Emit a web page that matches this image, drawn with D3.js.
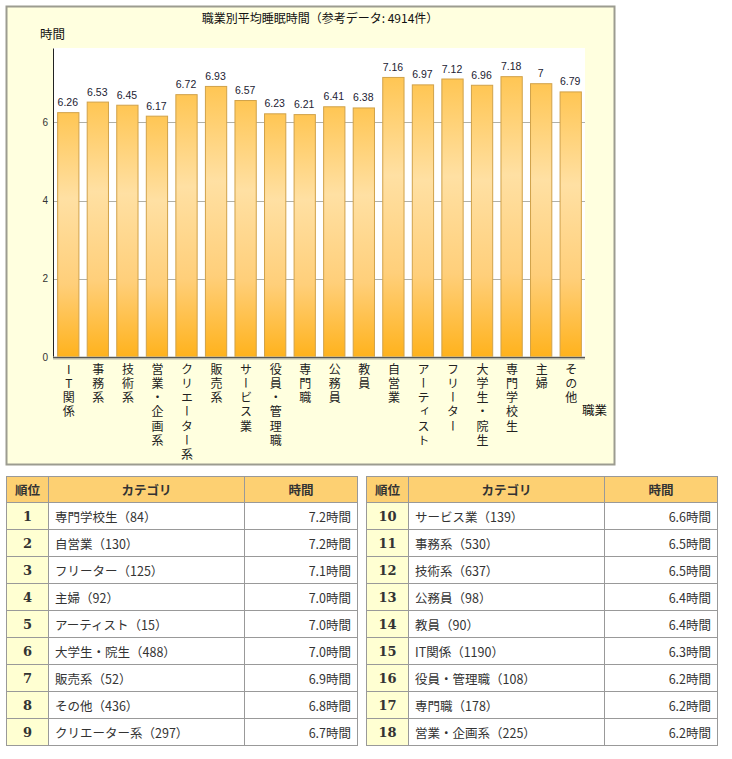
<!DOCTYPE html>
<html>
<head>
<meta charset="utf-8">
<script src="https://cdn.jsdelivr.net/npm/d3@7"></script>
<style>
    body { margin: 0; background: #fff; font-family: "Noto Sans CJK JP", "Noto Sans", sans-serif; }
    #chart { position: absolute; left: 0; top: 0; }
    table.rank {
        position: absolute; top: 476px; border-collapse: collapse;
        font-size: 12.5px; color: #333; table-layout: fixed;
    }
    table.rank th, table.rank td { border: 1px solid #999; height: 26px; padding: 0 6px; }
    table.rank th { background: #fdd072; font-weight: bold; text-align: center; height: 25px; }
    table.rank td.no { background: #ffffd2; text-align: center; font-weight: bold; font-family: "DejaVu Serif", serif; font-size: 13px; }
    table.rank td.hr { text-align: right; }
</style>
</head>
<body>
<div id="chart"></div>
<script>
// bar chart data (chart order)
const categories = ['IT関係', '事務系', '技術系', '営業・企画系', 'クリエーター系', '販売系', 'サービス業', '役員・管理職',
    '専門職', '公務員', '教員', '自営業', 'アーティスト', 'フリーター', '大学生・院生', '専門学校生', '主婦', 'その他'];
const values = [6.26, 6.53, 6.45, 6.17, 6.72, 6.93, 6.57, 6.23, 6.21, 6.41, 6.38, 7.16, 6.97, 7.12, 6.96, 7.18, 7, 6.79];
const yTicks = [0, 2, 4, 6];

// ranking table data
const rankNames = ['専門学校生', '自営業', 'フリーター', '主婦', 'アーティスト', '大学生・院生', '販売系', 'その他', 'クリエーター系',
    'サービス業', '事務系', '技術系', '公務員', '教員', 'IT関係', '役員・管理職', '専門職', '営業・企画系'];
const rankCounts = [84, 130, 125, 92, 15, 488, 52, 436, 297, 139, 530, 637, 98, 90, 1190, 108, 178, 225];
const rankHours = [7.2, 7.2, 7.1, 7.0, 7.0, 7.0, 6.9, 6.8, 6.7, 6.6, 6.5, 6.5, 6.4, 6.4, 6.3, 6.2, 6.2, 6.2];
const tableHeaders = ['順位', 'カテゴリ', '時間'];

const width = 732, height = 470;
const plot = {left: 53, right: 585, top: 48, bottom: 357};

const svg = d3.select('#chart').append('svg')
    .attr('width', width)
    .attr('height', height)
    .style('font-family', '"Noto Sans CJK JP", sans-serif');

// bar gradient
const defs = svg.append('defs');
const grad = defs.append('linearGradient')
    .attr('id', 'barGrad')
    .attr('x1', 0).attr('y1', 0).attr('x2', 0).attr('y2', 1);
grad.append('stop').attr('offset', '0%').attr('stop-color', '#ffc654');
grad.append('stop').attr('offset', '35%').attr('stop-color', '#ffe0a3');
grad.append('stop').attr('offset', '70%').attr('stop-color', '#ffcf7a');
grad.append('stop').attr('offset', '100%').attr('stop-color', '#ffb21c');

// panel
svg.append('rect')
    .attr('x', 6.5).attr('y', 6.5)
    .attr('width', 608).attr('height', 458)
    .attr('fill', '#ffffdf')
    .attr('stroke', '#9c9c90')
    .attr('stroke-width', 2);

svg.append('rect')
    .attr('x', plot.left).attr('y', plot.top)
    .attr('width', plot.right - plot.left).attr('height', plot.bottom - plot.top)
    .attr('fill', '#fff');

let x = d3.scaleBand()
    .domain(categories)
    .range([plot.left, plot.right])
    .paddingInner(0.28)
    .paddingOuter(0.14);

let y = d3.scaleLinear()
    .domain([0, 7.9])
    .range([plot.bottom, plot.top]);

// grid lines
svg.append('g')
    .selectAll('line')
    .data(yTicks.filter(d => d > 0))
    .join('line')
    .attr('x1', plot.left).attr('x2', plot.right)
    .attr('y1', d => Math.round(y(d)) + 0.5).attr('y2', d => Math.round(y(d)) + 0.5)
    .attr('stroke', '#b0b0a8');

// y axis
let yAxis = g => g
    .attr('transform', `translate(${plot.left}, 0)`)
    .call(d3.axisLeft(y).tickValues(yTicks).tickSize(0).tickPadding(5))
    .call(g => g.select('.domain').attr('stroke', '#222'))
    .call(g => g.selectAll('text').attr('font-size', 10).attr('fill', '#333').attr('font-family', 'Arial, "Liberation Sans", sans-serif'));
svg.append('g').call(yAxis);

// bars
svg.append('g')
    .selectAll('rect')
    .data(values)
    .join('rect')
    .attr('x', (d, i) => x(categories[i]) + 0.5)
    .attr('y', d => y(d) + 0.5)
    .attr('width', x.bandwidth())
    .attr('height', d => y(0) - y(d))
    .attr('fill', 'url(#barGrad)')
    .attr('stroke', '#d1a24a')
    .attr('stroke-width', 1);

// value labels
svg.append('g')
    .selectAll('text')
    .data(values)
    .join('text')
    .attr('x', (d, i) => x(categories[i]) + x.bandwidth() / 2)
    .attr('y', d => y(d) - 6)
    .attr('text-anchor', 'middle')
    .attr('font-size', 10.5)
    .attr('font-family', 'Arial, "Liberation Sans", sans-serif')
    .attr('fill', '#223')
    .text(d => d);

// x axis line
svg.append('line')
    .attr('x1', plot.left).attr('x2', plot.right)
    .attr('y1', plot.bottom + 1).attr('y2', plot.bottom + 1)
    .attr('stroke', '#b8b8a8').attr('stroke-width', 3);
svg.append('line')
    .attr('x1', plot.left).attr('x2', plot.right)
    .attr('y1', plot.bottom + 0.5).attr('y2', plot.bottom + 0.5)
    .attr('stroke', '#555');

// vertical category labels
svg.append('g')
    .selectAll('text')
    .data(categories)
    .join('text')
    .attr('x', d => x(d) + x.bandwidth() / 2 + 1)
    .attr('y', 363)
    .attr('font-size', 12)
    .attr('fill', '#222')
    .style('writing-mode', 'vertical-rl')
    .style('text-orientation', 'upright')
    .style('letter-spacing', '2.3px')
    .text(d => d);

// titles
svg.append('text')
    .attr('x', 320).attr('y', 23)
    .attr('text-anchor', 'middle')
    .attr('font-size', 12)
    .attr('fill', '#111')
    .text('職業別平均睡眠時間（参考データ: 4914件）');
svg.append('text')
    .attr('x', 40).attr('y', 39)
    .attr('font-size', 12.5)
    .attr('fill', '#111')
    .text('時間');
svg.append('text')
    .attr('x', 582).attr('y', 415)
    .attr('font-size', 12.5)
    .attr('fill', '#111')
    .text('職業');

// ranking tables
function rankTable(left, start, end) {
    let table = d3.select('body').append('table')
        .attr('class', 'rank')
        .style('left', left + 'px')
        .style('width', '351px');
    let cols = table.append('colgroup');
    [42, 196, 113].forEach(w => cols.append('col').style('width', w + 'px'));
    table.append('tr').selectAll('th')
        .data(tableHeaders)
        .join('th')
        .text(d => d);
    let rows = table.selectAll('tr.row')
        .data(d3.range(start, end))
        .join('tr')
        .attr('class', 'row');
    rows.append('td').attr('class', 'no').text(i => i + 1);
    rows.append('td').text(i => `${rankNames[i]}（${rankCounts[i]}）`);
    rows.append('td').attr('class', 'hr').text(i => `${rankHours[i].toFixed(1)}時間`);
}
rankTable(6, 0, 9);
rankTable(366, 9, 18);
</script>
</body>
</html>
